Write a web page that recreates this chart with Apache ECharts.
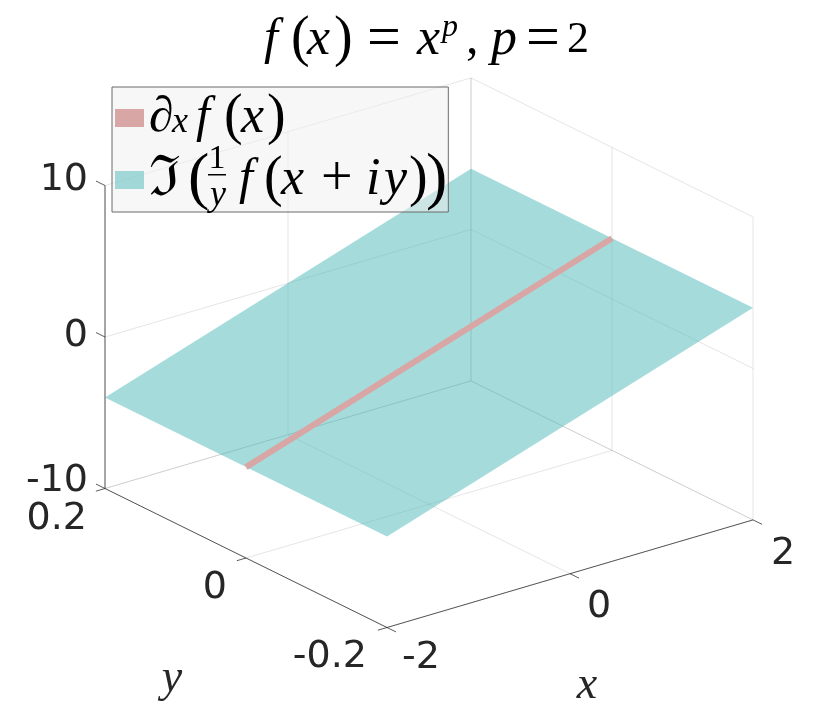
<!DOCTYPE html>
<html>
<head>
<meta charset="utf-8">
<style>html,body{margin:0;background:#fff}#main{width:830px;height:723px}</style>
<script src="https://cdn.jsdelivr.net/npm/echarts@6/dist/echarts.min.js"></script>
</head>
<body>
<div id="main"></div>
<script>
var xTicks = [-2, 0, 2]
var yTicks = [-0.2, 0, 0.2]
var zTicks = [-10, 0, 10]
var xLabels = ['-2', '0', '2']
var yLabels = ['-0.2', '0', '0.2']
var zLabels = ['-10', '0', '10']

// corners of the surface, and the two ends of the red line
var surfaceX = [-2, 2, 2, -2]
var surfaceY = [-0.2, -0.2, 0.2, 0.2]
var surfaceZ = [-4, 4, 4, -4]
var lineX = [-2, 2]
var lineY = [0, 0]
var lineZ = [-4, 4]

var lineName = '∂x f(x)'
var surfaceName = 'ℑ(1/y f(x+iy))'

// orthographic view: data units -> plane of the hidden cartesian axes
function project(x, y, z) {
  return [
    387 + (x + 2) * 91.5 + (y + 0.2) * -705,
    627.5 + (x + 2) * -26.9 + (y + 0.2) * -347.5 + (z + 10) * -15.15
  ]
}

var xMin = xTicks[0], xMax = xTicks[2]
var yMin = yTicks[0], yMax = yTicks[2]
var zMin = zTicks[0], zMax = zTicks[2]

var gridSegments = []
zTicks.forEach(function (z) {
  gridSegments.push([[xMin, yMax, z], [xMax, yMax, z]])
  gridSegments.push([[xMax, yMin, z], [xMax, yMax, z]])
})
xTicks.forEach(function (x) {
  gridSegments.push([[x, yMin, zMin], [x, yMax, zMin]])
  gridSegments.push([[x, yMax, zMin], [x, yMax, zMax]])
})
yTicks.forEach(function (y) {
  gridSegments.push([[xMin, y, zMin], [xMax, y, zMin]])
  gridSegments.push([[xMax, y, zMin], [xMax, y, zMax]])
})

var axisSegments = [
  [[xMin, yMin, zMin], [xMax, yMin, zMin]],
  [[xMin, yMin, zMin], [xMin, yMax, zMin]],
  [[xMin, yMax, zMin], [xMin, yMax, zMax]]
]
xTicks.forEach(function (x) { axisSegments.push([[x, yMin, zMin], [x, yMin - 0.0128, zMin]]) })
yTicks.forEach(function (y) { axisSegments.push([[xMin, y, zMin], [xMin - 0.1, y, zMin]]) })
zTicks.forEach(function (z) { axisSegments.push([[xMin, yMax, z], [xMin, yMax + 0.0128, z]]) })

function segmentSeries(segments, color, width) {
  return {
    type: 'custom',
    silent: true,
    clip: false,
    data: segments.map(function (s, i) { return [i] }),
    encode: { x: 0 },
    renderItem: function (params, api) {
      var s = segments[params.dataIndex]
      var a = api.coord(project(s[0][0], s[0][1], s[0][2]))
      var b = api.coord(project(s[1][0], s[1][1], s[1][2]))
      return {
        type: 'line',
        shape: { x1: a[0], y1: a[1], x2: b[0], y2: b[1] },
        style: { stroke: color, lineWidth: width, fill: null }
      }
    }
  }
}

// labels sit at a pixel offset from the axis point they belong to
var tickTexts = []
xTicks.forEach(function (x, i) {
  tickTexts.push({ text: xLabels[i], at: [x, yMin, zMin], dx: [34, 29, 30][i], dy: [31, 33, 34][i], align: 'center' })
})
yTicks.forEach(function (y, i) {
  tickTexts.push({ text: yLabels[i], at: [xMin, y, zMin], dx: [-20, -19, -18][i], dy: [30, 30, 31][i], align: 'right' })
})
zTicks.forEach(function (z, i) {
  tickTexts.push({ text: zLabels[i], at: [xMin, yMax, z], dx: -17, dy: [-7, -1, -5][i], align: 'right' })
})

var nameTexts = [
  { text: 'x', at: [0, yMin, zMin], dx: 17, dy: 112 },
  { text: 'y', at: [xMin, 0, zMin], dx: -74, dy: 121 }
]

function tok(size, width, italic, extra) {
  var s = {
    fontFamily: 'Liberation Serif',
    fontStyle: italic ? 'italic' : 'normal',
    fontWeight: 'normal',
    fontSize: size,
    lineHeight: 50,
    height: 50,
    width: width,
    color: '#000'
  }
  for (var k in extra) s[k] = extra[k]
  return s
}

var option = {
  backgroundColor: '#fff',
  animation: false,
  title: {
    left: 264,
    top: 15,
    padding: 0,
    text: '{f|f}{l|(}{x|x}{r|)}{e|=}{x2|x}{s|p}{c|,}{p|p}{e2|=}{t|2}',
    textStyle: {
      fontWeight: 'normal',
      rich: {
        f: tok(50, 27, true),
        l: tok(56, 16, false),
        x: tok(52, 27, true),
        r: tok(56, 33, false),
        e: tok(60, 50, false),
        x2: tok(52, 25, true),
        s: tok(32, 24, true, { verticalAlign: 'top', lineHeight: 26, height: 26 }),
        c: tok(50, 25, false),
        p: tok(52, 35, true),
        e2: tok(60, 41, false),
        t: tok(44, 24, false)
      }
    }
  },
  legend: {
    left: 112,
    top: 87,
    orient: 'vertical',
    align: 'left',
    selectedMode: false,
    icon: 'rect',
    itemWidth: 29,
    itemHeight: 18,
    itemGap: 2,
    padding: [3, 1, 0, 3],
    backgroundColor: 'rgba(239,239,239,0.5)',
    borderColor: '#6b6b6b',
    borderWidth: 1,
    borderRadius: 0,
    data: [lineName, surfaceName],
    formatter: function (name) {
      if (name == lineName) return '{d|∂}{b|x}{f|f}{l|(}{x|x}{r|)}'
      return '{i|ℑ}{p|(}{gap|}{f2|f}{l|(}{x3|x}{o|+}{i2|i}{y|y}{r2|)}{q|)}'
    },
    textStyle: {
      rich: {
        d: tok(50, 23, true),
        b: tok(36, 24, true, { verticalAlign: 'bottom', lineHeight: 40, height: 40 }),
        f: tok(50, 28, true),
        l: tok(56, 17, false),
        x: tok(52, 26, true),
        r: tok(56, 16, false),
        i: tok(56, 39, false, { fontFamily: 'DejaVu Serif' }),
        p: tok(64, 17, false),
        gap: { width: 34, height: 10 },
        f2: tok(50, 25, true),
        x3: tok(52, 40, true),
        o: tok(56, 45, false),
        i2: tok(52, 18, true),
        y: tok(52, 25, true),
        r2: tok(56, 17, false),
        q: tok(64, 20, false)
      }
    }
  },
  grid: { left: 0, right: 0, top: 0, bottom: 0 },
  xAxis: { type: 'value', min: 0, max: 830, show: false },
  yAxis: { type: 'value', min: 0, max: 723, inverse: true, show: false },
  graphic: [
    { type: 'text', z: 200, style: { text: '1', x: 217, y: 159, align: 'center', verticalAlign: 'middle', font: '34px "Liberation Serif"', fill: '#000' } },
    { type: 'rect', z: 200, shape: { x: 208, y: 174, width: 18, height: 1.5 }, style: { fill: '#000' } },
    { type: 'text', z: 200, style: { text: 'y', x: 218, y: 196, align: 'center', verticalAlign: 'middle', font: 'italic 36px "Liberation Serif"', fill: '#000' } }
  ],
  series: [
    segmentSeries(gridSegments, 'rgba(38,38,38,0.12)', 1),
    {
      name: surfaceName,
      type: 'custom',
      silent: true,
      clip: false,
      itemStyle: { color: 'rgba(77,184,184,0.5)' },
      data: [[0]],
      encode: { x: 0 },
      renderItem: function (params, api) {
        var points = surfaceX.map(function (x, i) {
          return api.coord(project(x, surfaceY[i], surfaceZ[i]))
        })
        return { type: 'polygon', shape: { points: points }, style: { fill: 'rgba(77,184,184,0.5)' } }
      }
    },
    {
      name: lineName,
      type: 'line',
      silent: true,
      symbol: 'none',
      itemStyle: { color: '#d9a6a6' },
      lineStyle: { color: '#d9a6a6', width: 6, cap: 'butt' },
      data: lineX.map(function (x, i) { return project(x, lineY[i], lineZ[i]) })
    },
    segmentSeries(axisSegments, 'rgba(38,38,38,0.75)', 1),
    {
      type: 'custom',
      silent: true,
      clip: false,
      data: tickTexts.concat(nameTexts).map(function (t, i) { return [i] }),
      encode: { x: 0 },
      renderItem: function (params, api) {
        var t = tickTexts.concat(nameTexts)[params.dataIndex]
        var p = api.coord(project(t.at[0], t.at[1], t.at[2]))
        return {
          type: 'text',
          style: {
            text: t.text, x: p[0] + t.dx, y: p[1] + t.dy,
            align: t.align || 'center', verticalAlign: 'middle',
            font: t.align ? '38px "DejaVu Sans"' : 'italic 46px "Liberation Serif"',
            fill: '#262626'
          }
        }
      }
    }
  ]
}

var myChart = echarts.init(document.getElementById('main'))
myChart.setOption(option)
</script>
</body>
</html>
